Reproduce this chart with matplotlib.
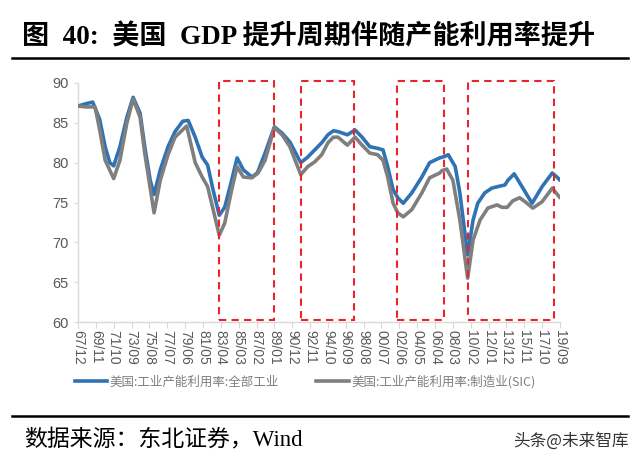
import matplotlib
matplotlib.use("Agg")
import matplotlib.pyplot as plt
from matplotlib.patches import Rectangle
from matplotlib.lines import Line2D

# ---------------- data (months since 1967/12, utilisation %) ----------------
tick_labels = ["67/12", "69/11", "71/10", "73/09", "75/08", "77/07", "79/06", "81/05",
               "83/04", "85/03", "87/02", "89/01", "90/12", "92/11", "94/10", "96/09",
               "98/08", "00/07", "02/06", "04/05", "06/04", "08/03", "10/02", "12/01",
               "13/12", "15/11", "17/10", "19/09"]

total_month = [0, 10, 19, 28, 35, 41, 46, 54, 63, 71, 80, 86, 93, 98, 106, 116, 125, 135,
               142, 151, 160, 167, 174, 182, 189, 198, 205, 213, 224, 231, 241, 253, 263,
               273, 287, 296, 305, 314, 322, 329, 335, 347, 357, 366, 376, 386, 393, 399,
               406, 412, 419, 430, 443, 453, 466, 473, 477, 486, 492, 502, 509, 515, 524,
               533, 541, 550, 554, 562, 572, 585, 598, 611, 617, 621]
total_value = [87.1, 87.4, 87.6, 85.4, 82.0, 80.0, 79.6, 82.0, 85.7, 88.2, 86.2, 82.0, 77.8,
               76.0, 79.1, 82.0, 83.9, 85.2, 85.3, 83.2, 80.7, 79.7, 76.6, 73.4, 74.4, 77.8,
               80.6, 79.1, 78.2, 78.7, 81.2, 84.5, 83.7, 82.6, 80.0, 80.7, 81.6, 82.5, 83.5,
               84.0, 83.9, 83.5, 84.1, 83.2, 82.0, 81.8, 81.6, 79.5, 76.6, 75.6, 74.9, 76.2,
               78.2, 80.0, 80.6, 80.8, 81.0, 79.5, 76.2, 68.4, 72.8, 74.9, 76.2, 76.8, 77.0,
               77.2, 77.8, 78.6, 77.0, 74.9, 77.0, 78.7, 78.2, 77.8]

mfg_month = [0, 10, 22, 28, 35, 46, 54, 63, 71, 80, 86, 98, 106, 116, 125, 140, 151, 160,
             167, 182, 189, 198, 205, 213, 224, 232, 241, 253, 263, 273, 287, 296, 305, 314,
             322, 329, 335, 347, 357, 366, 376, 386, 393, 399, 406, 412, 419, 430, 443, 453,
             466, 469, 475, 483, 492, 502, 509, 518, 528, 540, 546, 553, 560, 569, 576, 586,
             598, 611, 621]
mfg_value = [87.1, 87.0, 87.0, 84.1, 80.3, 78.0, 80.3, 85.0, 88.0, 85.7, 81.2, 73.7, 77.8,
             81.0, 83.2, 84.6, 80.0, 78.2, 77.0, 70.9, 72.4, 76.6, 79.5, 78.2, 78.1, 78.7,
             80.3, 84.4, 83.5, 82.0, 78.5, 79.5, 80.1, 81.0, 82.5, 83.2, 83.2, 82.2, 83.2,
             82.2, 81.2, 81.0, 80.3, 78.2, 74.9, 73.7, 73.2, 74.1, 76.2, 78.1, 78.7, 79.0,
             79.2, 77.8, 72.8, 65.5, 70.3, 72.8, 74.3, 74.7, 74.4, 74.4, 75.2, 75.6, 75.1,
             74.3, 75.1, 76.8, 75.6]

series_names = ["美国:工业产能利用率:全部工业", "美国:工业产能利用率:制造业(SIC)"]

# highlighted periods (start month, end month)
highlight_periods = [(182, 252), (287, 356), (411, 472), (502, 613)]

# ---------------- figure ----------------
fig = plt.figure(figsize=(6.4, 4.65), dpi=100)
ax = fig.add_axes([78 / 640, 1 - 322 / 465, (560 - 78) / 640, (322 - 83) / 465])

blue = "#2F73B5"
grey = "#7F7F7F"
ax.plot(total_month, total_value, color=blue, lw=2.6, solid_joinstyle="round",
        solid_capstyle="round", zorder=3)
ax.plot(mfg_month, mfg_value, color=grey, lw=2.6, solid_joinstyle="round",
        solid_capstyle="round", zorder=4)

ax.set_xlim(0, 621)
ax.set_ylim(60, 90)
ax.set_yticks(range(60, 91, 5))
ax.set_xticks([i * 23 for i in range(len(tick_labels))])
ax.set_xticklabels(tick_labels, rotation=-90, fontsize=10, color="#595959",
                   family="Liberation Sans")
for lab in ax.get_yticklabels():
    lab.set_fontsize(10.5)
    lab.set_color("#595959")
    lab.set_family("Liberation Sans")

for s in ("top", "right"):
    ax.spines[s].set_visible(False)
for s in ("left", "bottom"):
    ax.spines[s].set_color("#D9D9D9")
    ax.spines[s].set_linewidth(1.0)
ax.tick_params(axis="x", length=4, color="#D9D9D9", pad=2)
ax.tick_params(axis="y", length=3, color="#D9D9D9", pad=4)

# red dashed highlight boxes
for (a, b) in highlight_periods:
    ax.add_patch(Rectangle((a, 60.3), b - a, 30.0, fill=False, ec="#E8242E", lw=1.5,
                           ls=(0, (3.5, 2.5)), clip_on=False, zorder=5))

# legend
handles = [Line2D([], [], color=blue, lw=2.6), Line2D([], [], color=grey, lw=2.6)]
leg = fig.legend(handles, series_names, loc="center", bbox_to_anchor=(305 / 640, 1 - 382 / 465),
                 ncol=2, frameon=False, handlelength=2.6, handletextpad=0.2, columnspacing=3.0,
                 prop={"family": ["Noto Sans CJK SC", "DejaVu Sans"], "size": 9})
for t in leg.get_texts():
    t.set_color("#7F7F7F")

# title and rules
title_font = ["Liberation Serif", "Noto Sans CJK SC"]
fig.text(22 / 640, 1 - 37 / 465, "图  40:  美国  GDP 提升周期伴随产能利用率提升",
         family=title_font, weight="bold", fontsize=19.5, va="center", ha="left")
fig.add_artist(Line2D([12 / 640, 628 / 640], [1 - 58 / 465, 1 - 58 / 465], color="black",
                      lw=1.8, transform=fig.transFigure))
fig.add_artist(Line2D([12 / 640, 628 / 640], [1 - 416 / 465, 1 - 416 / 465], color="black",
                      lw=1.8, transform=fig.transFigure))
fig.text(24 / 640, 1 - 440 / 465, "数据来源：东北证券，Wind", family=title_font,
         fontsize=16.5, va="center", ha="left")
fig.text(629 / 640, 1 - 441 / 465, "头条@未来智库", family=["Noto Sans CJK SC", "DejaVu Sans"],
         fontsize=12, va="center", ha="right", color="#333333")

fig.savefig("out.png", dpi=100)
